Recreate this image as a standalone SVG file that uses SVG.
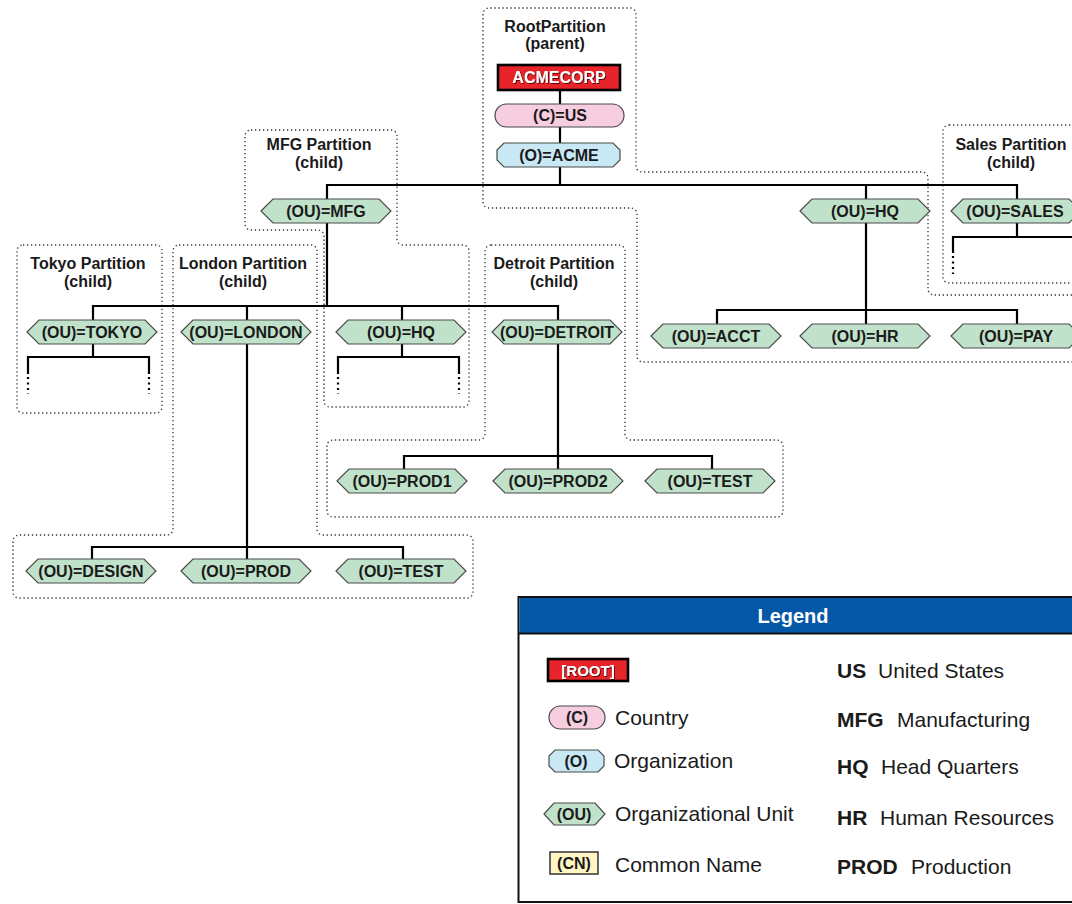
<svg xmlns="http://www.w3.org/2000/svg" xmlns:xlink="http://www.w3.org/1999/xlink" width="1072" height="904" viewBox="0 0 1072 904">
  <style>
    .part { fill: none; stroke: #333; stroke-width: 1.3; stroke-dasharray: 1.3 2.7; }
    .ptitle { font-family: "Liberation Sans", Arial, sans-serif; font-weight: bold; font-size: 16px; fill: #1a1a1a; text-anchor: middle; }
    .wire { fill: none; stroke: #000; stroke-width: 2.2; }
    .tail { fill: none; stroke: #000; stroke-width: 2.2; stroke-dasharray: 2 3.5; }
    .ou { fill: #c0e2ca; stroke: #4a4a4a; stroke-width: 1.2; }
    .country { fill: #f7cde0; stroke: #4a4a4a; stroke-width: 1.2; }
    .org { fill: #c8e8f6; stroke: #4a4a4a; stroke-width: 1.2; }
    .root { fill: #e8242b; stroke: #000; stroke-width: 2.6; }
    .cn { fill: #fff6c4; stroke: #333; stroke-width: 1.5; }
    .lbl { font-family: "Liberation Sans", Arial, sans-serif; font-weight: bold; font-size: 16px; fill: #1a1a1a; text-anchor: middle; }
    .rootlbl { font-family: "Liberation Sans", Arial, sans-serif; font-weight: bold; font-size: 16px; fill: #fff; text-anchor: middle; filter: url(#shadow); }
    .leg { font-family: "Liberation Sans", Arial, sans-serif; font-size: 21px; fill: #1a1a1a; }
    .legb { font-family: "Liberation Sans", Arial, sans-serif; font-size: 21px; font-weight: bold; fill: #1a1a1a; }
    .legsym { font-family: "Liberation Sans", Arial, sans-serif; font-weight: bold; font-size: 16px; fill: #1a1a1a; text-anchor: middle; }
  </style>
  <defs>
    <polygon id="hex" points="0,12 12,0 118,0 130,12 118,24 12,24"/>
    <filter id="shadow" x="-10%" y="-20%" width="130%" height="160%">
      <feDropShadow dx="1" dy="1" stdDeviation="0.3" flood-color="#400" flood-opacity="0.9"/>
    </filter>
  </defs>
  <rect width="1072" height="904" fill="#fff"/>

  <!-- partition outlines -->
  <g id="partitions">
    <path id="part-root" class="part" d="M1080,295 H934 A6,6 0 0 1 928,289 V178 A6,6 0 0 0 922,172 H642 A6,6 0 0 1 636,166 V14 A6,6 0 0 0 630,8 H489 A6,6 0 0 0 483,14 V202 A6,6 0 0 0 489,208 H631 A6,6 0 0 1 637,214 V356 A6,6 0 0 0 643,362 H1080"/>
    <rect id="part-sales" class="part" x="943" y="125" width="140" height="158" rx="6"/>
    <path id="part-mfg" class="part" d="M251,130 H391 A6,6 0 0 1 397,136 V239 A6,6 0 0 0 403,245 H463 A6,6 0 0 1 469,251 V401 A6,6 0 0 1 463,407 H330 A6,6 0 0 1 324,401 V236 A6,6 0 0 0 318,230 H251 A6,6 0 0 1 245,224 V136 A6,6 0 0 1 251,130 Z"/>
    <rect id="part-tokyo" class="part" x="17" y="245" width="145" height="168" rx="6"/>
    <path id="part-london" class="part" d="M179,245 H311 A6,6 0 0 1 317,251 V529 A6,6 0 0 0 323,535 H467 A6,6 0 0 1 473,541 V592 A6,6 0 0 1 467,598 H19 A6,6 0 0 1 13,592 V541 A6,6 0 0 1 19,535 H167 A6,6 0 0 0 173,529 V251 A6,6 0 0 1 179,245 Z"/>
    <path id="part-detroit" class="part" d="M491,245 H619 A6,6 0 0 1 625,251 V434 A6,6 0 0 0 631,440 H777 A6,6 0 0 1 783,446 V511 A6,6 0 0 1 777,517 H333 A6,6 0 0 1 327,511 V446 A6,6 0 0 1 333,440 H479 A6,6 0 0 0 485,434 V251 A6,6 0 0 1 491,245 Z"/>
  </g>

  <!-- partition titles -->
  <g id="partition-titles">
    <text class="ptitle" x="555" y="32">RootPartition</text>
    <text class="ptitle" x="555" y="49">(parent)</text>
    <text class="ptitle" x="319" y="150">MFG Partition</text>
    <text class="ptitle" x="319" y="168">(child)</text>
    <text class="ptitle" x="1011" y="150">Sales Partition</text>
    <text class="ptitle" x="1011" y="168">(child)</text>
    <text class="ptitle" x="88" y="269">Tokyo Partition</text>
    <text class="ptitle" x="88" y="287">(child)</text>
    <text class="ptitle" x="243" y="269">London Partition</text>
    <text class="ptitle" x="243" y="287">(child)</text>
    <text class="ptitle" x="554" y="269">Detroit Partition</text>
    <text class="ptitle" x="554" y="287">(child)</text>
  </g>

  <!-- connectors -->
  <g id="connectors">
    <path class="wire" d="M560,90 V104 M560,127 V143 M560,167 V185"/>
    <path class="wire" d="M327,199 V185 H1017 V199 M866,185 V199"/>
    <path class="wire" d="M327,222 V306 M93,320 V306 H558 V320 M247,306 V320 M402,306 V320"/>
    <path class="wire" d="M93,344 V357 M28,374 V357 H149 V374"/>
    <path class="tail" d="M28,377 V394 M149,377 V394"/>
    <path class="wire" d="M402,344 V357 M338,374 V357 H459 V374"/>
    <path class="tail" d="M338,377 V394 M459,377 V394"/>
    <path class="wire" d="M247,344 V559 M92,559 V547 H403 V559"/>
    <path class="wire" d="M558,344 V469 M404,469 V456 H712 V469"/>
    <path class="wire" d="M866,222 V324 M717,324 V310 H1017 V324"/>
    <path class="wire" d="M1017,222 V237 M953,253 V237 H1080"/>
    <path class="tail" d="M953,256 V274"/>
  </g>

  <!-- root chain -->
  <g id="n-acmecorp">
    <rect class="root" x="498" y="65" width="122" height="25"/>
    <text class="rootlbl" x="559" y="83">ACMECORP</text>
  </g>
  <g id="n-us">
    <rect class="country" x="495" y="104" width="129" height="23" rx="11.5"/>
    <text class="lbl" x="560" y="121">(C)=US</text>
  </g>
  <g id="n-acme">
    <polygon class="org" points="504,143 613,143 620,150 620,160 613,167 504,167 497,160 497,150"/>
    <text class="lbl" x="559" y="161">(O)=ACME</text>
  </g>

  <!-- organizational units -->
  <g id="n-mfg"><use xlink:href="#hex" class="ou" x="261" y="199"/><text class="lbl" x="326" y="217">(OU)=MFG</text></g>
  <g id="n-hq"><use xlink:href="#hex" class="ou" x="800" y="199"/><text class="lbl" x="865" y="217">(OU)=HQ</text></g>
  <g id="n-sales"><use xlink:href="#hex" class="ou" x="951" y="199"/><text class="lbl" x="1015" y="217">(OU)=SALES</text></g>
  <g id="n-tokyo"><use xlink:href="#hex" class="ou" x="27" y="320"/><text class="lbl" x="92" y="338">(OU)=TOKYO</text></g>
  <g id="n-london"><use xlink:href="#hex" class="ou" x="181" y="320"/><text class="lbl" x="246" y="338">(OU)=LONDON</text></g>
  <g id="n-mfg-hq"><use xlink:href="#hex" class="ou" x="336" y="320"/><text class="lbl" x="401" y="338">(OU)=HQ</text></g>
  <g id="n-detroit"><use xlink:href="#hex" class="ou" x="492" y="320"/><text class="lbl" x="557" y="338">(OU)=DETROIT</text></g>
  <g id="n-acct"><use xlink:href="#hex" class="ou" x="651" y="324"/><text class="lbl" x="716" y="342">(OU)=ACCT</text></g>
  <g id="n-hr"><use xlink:href="#hex" class="ou" x="800" y="324"/><text class="lbl" x="865" y="342">(OU)=HR</text></g>
  <g id="n-pay"><use xlink:href="#hex" class="ou" x="951" y="324"/><text class="lbl" x="1016" y="342">(OU)=PAY</text></g>
  <g id="n-prod1"><use xlink:href="#hex" class="ou" x="337" y="469"/><text class="lbl" x="402" y="487">(OU)=PROD1</text></g>
  <g id="n-prod2"><use xlink:href="#hex" class="ou" x="493" y="469"/><text class="lbl" x="558" y="487">(OU)=PROD2</text></g>
  <g id="n-det-test"><use xlink:href="#hex" class="ou" x="645" y="469"/><text class="lbl" x="710" y="487">(OU)=TEST</text></g>
  <g id="n-design"><use xlink:href="#hex" class="ou" x="26" y="559"/><text class="lbl" x="91" y="577">(OU)=DESIGN</text></g>
  <g id="n-prod"><use xlink:href="#hex" class="ou" x="181" y="559"/><text class="lbl" x="246" y="577">(OU)=PROD</text></g>
  <g id="n-lon-test"><use xlink:href="#hex" class="ou" x="336" y="559"/><text class="lbl" x="401" y="577">(OU)=TEST</text></g>

  <!-- legend -->
  <g id="legend">
    <rect x="518.5" y="597" width="570" height="305" fill="#fff" stroke="#111" stroke-width="2"/>
    <rect x="519.5" y="598" width="568" height="35" fill="#0558a8"/>
    <line x1="518.5" y1="633.5" x2="1080" y2="633.5" stroke="#111" stroke-width="2"/>
    <text x="793" y="623" font-family="Liberation Sans, Arial, sans-serif" font-weight="bold" font-size="20" fill="#fff" text-anchor="middle">Legend</text>

    <rect class="root" x="548" y="659" width="80" height="22"/>
    <text x="588" y="676" font-family="Liberation Sans, Arial, sans-serif" font-weight="bold" font-size="15" fill="#fff" text-anchor="middle" filter="url(#shadow)">[ROOT]</text>

    <rect class="country" x="549" y="706" width="56" height="23" rx="11.5"/>
    <text class="legsym" x="577" y="723">(C)</text>
    <text class="leg" x="615" y="725">Country</text>

    <polygon class="org" points="555,750 598,750 604,756 604,766 598,772 555,772 549,766 549,756"/>
    <text class="legsym" x="576" y="767">(O)</text>
    <text class="leg" x="614" y="768">Organization</text>

    <polygon class="ou" points="544,814 554,803 595,803 605,814 595,825 554,825"/>
    <text class="legsym" x="574" y="820">(OU)</text>
    <text class="leg" x="615" y="821">Organizational Unit</text>

    <rect class="cn" x="550" y="852" width="48" height="22"/>
    <text class="legsym" x="574" y="869">(CN)</text>
    <text class="leg" x="615" y="872">Common Name</text>

    <text class="legb" x="837" y="678">US</text>
    <text class="leg" x="878" y="678">United States</text>
    <text class="legb" x="837" y="727">MFG</text>
    <text class="leg" x="897" y="727">Manufacturing</text>
    <text class="legb" x="837" y="774">HQ</text>
    <text class="leg" x="881" y="774">Head Quarters</text>
    <text class="legb" x="837" y="825">HR</text>
    <text class="leg" x="880" y="825">Human Resources</text>
    <text class="legb" x="837" y="874">PROD</text>
    <text class="leg" x="911" y="874">Production</text>
  </g>
</svg>
